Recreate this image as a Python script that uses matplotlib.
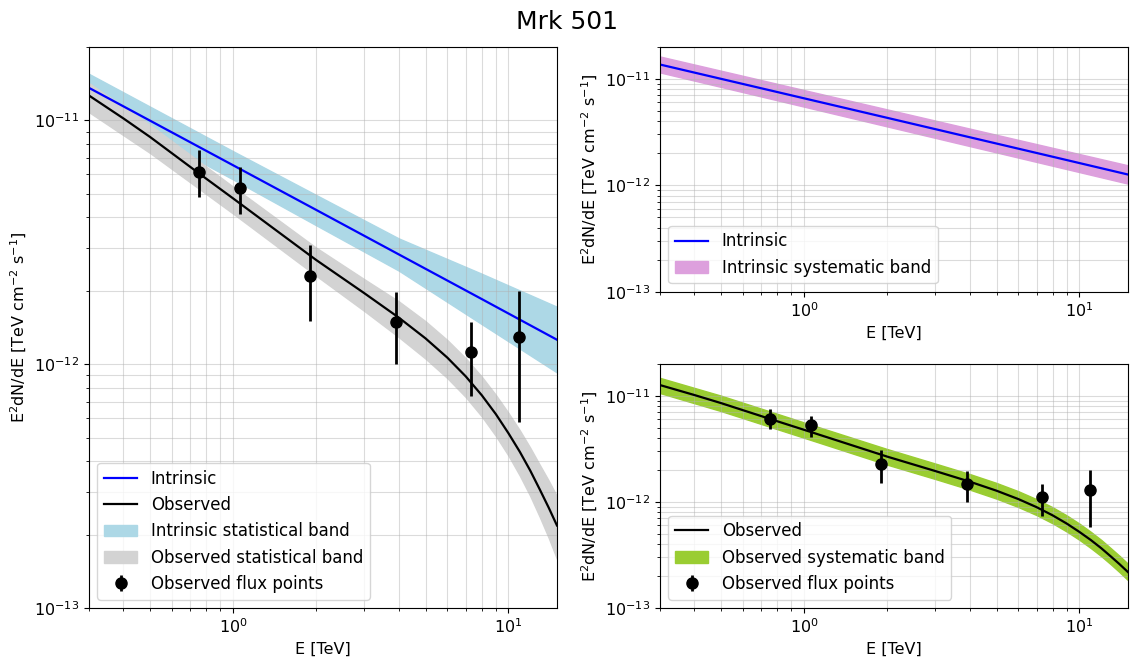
import numpy as np
import matplotlib
matplotlib.use("Agg")
import matplotlib.pyplot as plt

# intrinsic model (power law)
e_int = [0.3, 1.0, 2.0, 4.0, 8.0, 15.0]
f_int = [1.36e-11, 6.55e-12, 4.30e-12, 2.82e-12, 1.85e-12, 1.26e-12]
f_int_stat_lo = [1.194e-11, 5.73e-12, 3.72e-12, 2.42e-12, 1.46e-12, 9.25e-13]
f_int_stat_hi = [1.552e-11, 7.48e-12, 4.95e-12, 3.28e-12, 2.35e-12, 1.72e-12]

e_sys = [0.3, 1.0, 4.0, 15.0]
f_int_sys_lo = [1.146e-11, 5.47e-12, 2.33e-12, 1.035e-12]
f_int_sys_hi = [1.618e-11, 7.83e-12, 3.40e-12, 1.538e-12]

# observed (EBL absorbed) model
e_obs = [0.3, 0.4, 0.5, 0.75, 1.0, 1.5, 2.0, 3.0, 4.0, 5.0, 6.0, 7.0, 8.0,
         9.0, 10.0, 11.0, 12.0, 13.0, 14.0, 15.0]
f_obs = [1.265e-11, 1.019e-11, 8.55e-12, 6.08e-12, 4.79e-12, 3.41e-12, 2.68e-12,
         1.954e-12, 1.552e-12, 1.276e-12, 1.064e-12, 8.91e-13, 7.46e-13,
         6.24e-13, 5.21e-13, 4.37e-13, 3.66e-13, 3.06e-13, 2.58e-13, 2.18e-13]

e_band = [0.3, 0.5, 1.0, 2.0, 3.0, 4.0, 5.0, 6.0, 7.0, 8.0, 9.0, 10.0,
          11.0, 12.0, 13.0, 14.0, 15.0]
f_obs_stat_lo = [1.081e-11, 7.35e-12, 4.15e-12, 2.31e-12, 1.652e-12, 1.291e-12,
                 1.054e-12, 8.77e-13, 7.33e-13, 6.11e-13, 5.08e-13, 4.22e-13,
                 3.49e-13, 2.88e-13, 2.36e-13, 1.94e-13, 1.59e-13]
f_obs_stat_hi = [1.422e-11, 9.59e-12, 5.35e-12, 3.01e-12, 2.23e-12, 1.81e-12,
                 1.500e-12, 1.256e-12, 1.057e-12, 8.89e-13, 7.48e-13, 6.31e-13,
                 5.35e-13, 4.54e-13, 3.86e-13, 3.33e-13, 2.87e-13]
f_obs_sys_lo = [1.064e-11, 7.19e-12, 4.03e-12, 2.25e-12, 1.644e-12, 1.306e-12,
                1.074e-12, 8.95e-13, 7.50e-13, 6.28e-13, 5.25e-13, 4.39e-13,
                3.67e-13, 3.08e-13, 2.58e-13, 2.17e-13, 1.83e-13]
f_obs_sys_hi = [1.479e-11, 1.005e-11, 5.62e-12, 3.16e-12, 2.30e-12, 1.832e-12,
                1.510e-12, 1.262e-12, 1.059e-12, 8.89e-13, 7.45e-13, 6.24e-13,
                5.22e-13, 4.38e-13, 3.66e-13, 3.09e-13, 2.61e-13]

# flux points
e_pts = [0.753, 1.06, 1.90, 3.90, 7.34, 10.9]
f_pts = [6.12e-12, 5.26e-12, 2.30e-12, 1.49e-12, 1.12e-12, 1.29e-12]
f_pts_lo = [4.83e-12, 4.12e-12, 1.51e-12, 1.00e-12, 7.4e-13, 5.78e-13]
f_pts_hi = [7.53e-12, 6.41e-12, 3.07e-12, 1.97e-12, 1.49e-12, 2.00e-12]

yerr = [np.array(f_pts) - np.array(f_pts_lo), np.array(f_pts_hi) - np.array(f_pts)]
ylab = r"E$^2$dN/dE [TeV cm$^{-2}$ s$^{-1}$]"

fig = plt.figure(figsize=(11.35, 6.67), dpi=100)
ax1 = fig.add_axes([0.0784, 0.0885, 0.4123, 0.841])
ax2 = fig.add_axes([0.5815, 0.5627, 0.4123, 0.3673])
ax3 = fig.add_axes([0.5815, 0.0885, 0.4123, 0.3658])

# left: intrinsic + observed with statistical bands
ax1.plot(e_int, f_int, color="blue", lw=1.6, label="Intrinsic")
ax1.plot(e_obs, f_obs, color="black", lw=1.6, label="Observed")
ax1.fill_between(e_int, f_int_stat_lo, f_int_stat_hi, color="lightblue",
                 label="Intrinsic statistical band")
ax1.fill_between(e_band, f_obs_stat_lo, f_obs_stat_hi, color="lightgray",
                 label="Observed statistical band")
ax1.errorbar(e_pts, f_pts, yerr=yerr, fmt="o", color="black", ms=8,
             elinewidth=2, label="Observed flux points")

# top right: intrinsic systematic
ax2.plot(e_int, f_int, color="blue", lw=1.6, label="Intrinsic")
ax2.fill_between(e_sys, f_int_sys_lo, f_int_sys_hi, color="plum",
                 label="Intrinsic systematic band")

# bottom right: observed systematic
ax3.plot(e_obs, f_obs, color="black", lw=1.6, label="Observed")
ax3.fill_between(e_band, f_obs_sys_lo, f_obs_sys_hi, color="yellowgreen",
                 label="Observed systematic band")
ax3.errorbar(e_pts, f_pts, yerr=yerr, fmt="o", color="black", ms=8,
             elinewidth=2, label="Observed flux points")

for ax in (ax1, ax2, ax3):
    ax.set_xscale("log")
    ax.set_yscale("log")
    ax.set_xlim(0.3, 15)
    ax.set_ylim(1e-13, 2e-11)
    ax.set_xlabel("E [TeV]", fontsize=11.5)
    ax.set_ylabel(ylab, fontsize=11.5)
    ax.tick_params(labelsize=11.5)
    ax.grid(True, which="both", alpha=0.45)
    ax.legend(loc="lower left", fontsize=12)

fig.suptitle("Mrk 501", fontsize=18, y=0.985)
fig.savefig("out.png", dpi=100)
